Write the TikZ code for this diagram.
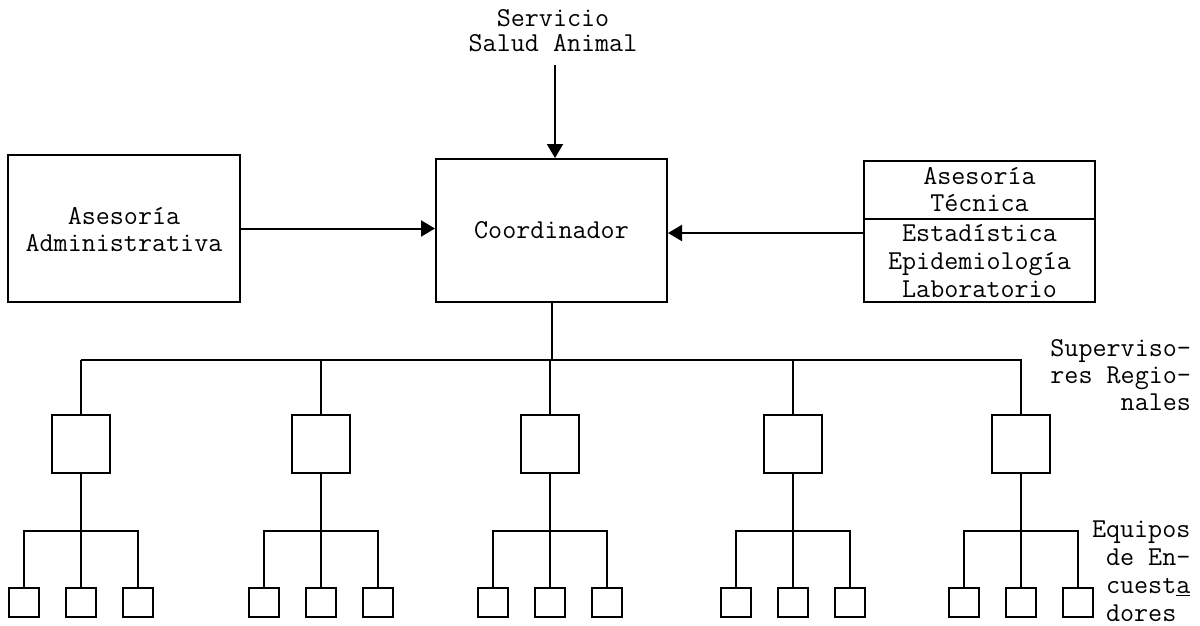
\documentclass[tikz,border=0pt]{standalone}
\usepackage{fontspec}
\setmainfont{Latin Modern Mono}
\usetikzlibrary{arrows.meta}
\begin{document}
\begin{tikzpicture}[x=1pt,y=-1pt,
  line width=2pt,
  every node/.style={font=\fontsize{27.3}{26}\selectfont, inner sep=0pt},
  bigbox/.style={draw, rectangle},
  rbox/.style={draw, rectangle, minimum width=58pt, minimum height=58pt},
  ebox/.style={draw, rectangle, minimum width=30pt, minimum height=29pt},
  arr/.style={-{Triangle[length=14pt,width=16pt]}}]
\useasboundingbox (0,0) rectangle (1200,626);

% top label and arrow
\node[align=center, font=\fontsize{27.3}{25}\selectfont] (srv) at (553,30.5) {Servicio\\Salud Animal};
\coordinate (srvtail) at (555,65);

% coordinator
\node[bigbox, minimum width=231pt, minimum height=143pt] (co) at (551.5,230.5) {Coordinador};
\draw[arr] (srvtail) -- (srvtail |- co.north) ;

% left box
\node[bigbox, minimum width=232pt, minimum height=147pt] (lb) at (124,228.5) {};
\node[align=center, font=\fontsize{27.3}{27}\selectfont] (lbt) at (124,230) {Asesoría\\Administrativa};
\draw[arr] (lb.east) -- (co.west |- lb.east);

% right box
\node[bigbox, minimum width=231pt, minimum height=141pt] (ra) at (979.5,231.5) {};
\coordinate (dv) at (864,219);
\draw (ra.west |- dv) -- (ra.east |- dv);
\node[align=center, font=\fontsize{27.3}{27}\selectfont] (rt) at (979.5,190) {Asesoría\\Técnica};
\node[align=center, font=\fontsize{27.3}{28}\selectfont] (rbx) at (979.5,261) {Estadística\\Epidemiología\\Laboratorio};
\coordinate (rin) at (864,233);
\draw[arr] (ra.west |- rin) -- (co.east |- rin);

% bus
\coordinate (bus1) at (81,360);
\coordinate (bus2) at (320,360);
\coordinate (bus3) at (551.5,360);
\coordinate (bus4) at (792,360);
\coordinate (bus5) at (1022,360);
\draw (co.south) -- (bus3);
\draw (bus1) -- (bus5);

\foreach \i/\x in {1/81,2/321,3/550,4/793,5/1021}{
  \node[rbox] (r\i) at (\x,444) {};
  \draw (bus\i -| r\i.north) -- (r\i.north);
  \coordinate (s\i) at (\x,531);
  \node[ebox] (e\i a) at (\x-57,602.5) {};
  \node[ebox] (e\i b) at (\x,602.5) {};
  \node[ebox] (e\i c) at (\x+57,602.5) {};
  \draw (r\i.south) -- (s\i);
  \draw (e\i a.north) |- (s\i) -| (e\i c.north);
  \draw (s\i) -- (e\i b.north);
}

% side labels
\node[align=right, anchor=east, font=\fontsize{27.3}{27}\selectfont] (sup) at (1192,375) {Superviso-\\res Regio-\\nales};
\node[align=left, anchor=west, font=\fontsize{27.3}{28}\selectfont] (eq) at (1091,571) {Equipos\\\ de En-\\\ cuest\underline{a}\\\ dores};
\end{tikzpicture}
\end{document}
